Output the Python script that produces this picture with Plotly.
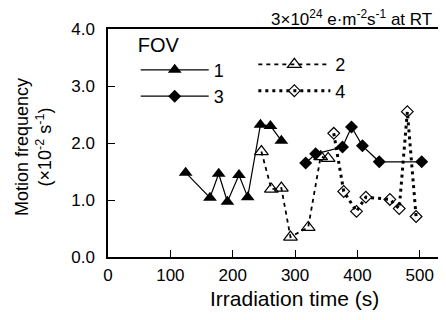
import plotly.graph_objects as go

# ---- data ----
fov1_x = [124.5, 163.5, 177.5, 191.5, 210, 224, 244.5, 260.5, 278]
fov1_y = [1.48, 1.04, 1.46, 0.97, 1.44, 1.05, 2.32, 2.30, 2.04]

fov2_x = [246, 262, 278, 292.6, 321, 341, 353]
fov2_y = [1.85, 1.19, 1.21, 0.35, 0.52, 1.76, 1.73]

fov3_x = [317, 333, 376, 390.5, 408, 435, 503]
fov3_y = [1.65, 1.81, 1.93, 2.28, 1.95, 1.67, 1.67]

fov4_x = [362, 378, 398.5, 413.5, 452, 467, 480, 494]
fov4_y = [2.17, 1.15, 0.80, 1.05, 1.01, 0.85, 2.55, 0.71]

x_ticks = [0, 100, 200, 300, 400, 500]
y_ticks = [0, 1, 2, 3, 4]
y_tick_labels = ["0.0", "1.0", "2.0", "3.0", "4.0"]

FONT = "Liberation Sans, Arial, sans-serif"

fig = go.Figure()
fig.add_trace(go.Scatter(
    x=fov1_x, y=fov1_y, name="1", mode="lines+markers", legend="legend",
    line=dict(color="black", width=1.2),
    marker=dict(symbol="triangle-up", size=12, color="black")))
fig.add_trace(go.Scatter(
    x=fov3_x, y=fov3_y, name="3", mode="lines+markers", legend="legend",
    line=dict(color="black", width=1.2),
    marker=dict(symbol="diamond", size=10, color="black")))
fig.add_trace(go.Scatter(
    x=fov2_x, y=fov2_y, name="2", mode="lines+markers", legend="legend2",
    line=dict(color="black", width=1.8, dash="4px,4px"),
    marker=dict(symbol="triangle-up-open", size=12, color="black",
                line=dict(width=1.2))))
fig.add_trace(go.Scatter(
    x=fov4_x, y=fov4_y, name="4", mode="lines+markers", legend="legend2",
    line=dict(color="black", width=3, dash="3px,4px"),
    marker=dict(symbol="diamond-open", size=9, color="black",
                line=dict(width=1.2))))

axis_common = dict(
    showgrid=False, zeroline=False, showline=True, linecolor="black",
    linewidth=1.5, ticks="inside", ticklen=7, tickwidth=1.2, tickcolor="black",
    tickfont=dict(family=FONT, size=17, color="black"),
)

fig.update_xaxes(range=[0, 542], tickvals=x_ticks, mirror=True,
                 ticklabelstandoff=2, **axis_common)
fig.update_yaxes(range=[0, 4], tickvals=y_ticks, ticktext=y_tick_labels,
                 mirror=False, ticklabelstandoff=8, **axis_common)

fig.update_layout(
    width=438, height=304,
    margin=dict(l=100, r=0, t=21, b=55),
    paper_bgcolor="white", plot_bgcolor="white",
    font=dict(family=FONT, color="black"),
    showlegend=True,
    legend=dict(
        x=0.082, y=1.015, xanchor="left", yanchor="top",
        bgcolor="rgba(0,0,0,0)", borderwidth=0,
        title=dict(text="FOV", font=dict(family=FONT, size=20)),
        font=dict(family=FONT, size=18), itemwidth=68, tracegroupgap=0),
    legend2=dict(
        x=0.43, y=0.925, xanchor="left", yanchor="top",
        bgcolor="rgba(0,0,0,0)", borderwidth=0,
        font=dict(family=FONT, size=18), itemwidth=72, tracegroupgap=0),
    annotations=[
        dict(text="3×10<sup>24</sup> e·m<sup>-2</sup>s<sup>-1</sup> at RT",
             xref="paper", yref="paper", x=0.965, y=1.048,
             xanchor="right", yanchor="middle", showarrow=False,
             font=dict(family=FONT, size=17)),
        dict(text="Irradiation time (s)", xref="paper", yref="paper",
             x=0.553, y=0, yshift=-41, xanchor="center", yanchor="middle",
             showarrow=False, font=dict(family=FONT, size=21)),
        dict(text="Motion frequency<br>(×10<sup>-2</sup> s<sup>-1</sup>)",
             xref="paper", yref="paper", x=0, xshift=-75, y=0.482,
             xanchor="center", yanchor="middle", textangle=-90,
             showarrow=False, font=dict(family=FONT, size=18)),
    ],
)

fig.write_html("out.html")
